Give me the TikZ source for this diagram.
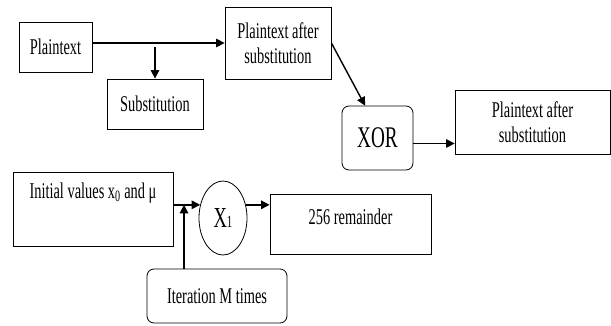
\documentclass[tikz,border=0pt]{standalone}
\usepackage{fontspec}
\setmainfont{Liberation Serif}[FakeStretch=0.64]
\usetikzlibrary{arrows.meta,shapes.geometric,calc}
\begin{document}
\begin{tikzpicture}[x=1pt,y=-1pt,
  box/.style={draw, line width=0.8pt, inner sep=0pt, align=center,
    font=\fontsize{22.5}{25}\selectfont},
  rbox/.style={box, rounded corners=7pt},
  arr/.style={line width=1.4pt, -{Triangle[length=8.5pt,width=8.5pt]}}]
\useasboundingbox (0,0) rectangle (611,325);
\node[box, minimum width=73, minimum height=50] (pt) at (55.5,47) {Plaintext};
\node[box, minimum width=106, minimum height=72] (pas) at (278,43) {Plaintext after\\substitution};
\node[box, minimum width=96, minimum height=50] (sub) at (155,104) {Substitution};
\node[rbox, minimum width=71, minimum height=64, font=\fontsize{30}{32}\selectfont] (xor) at (377.5,138) {XOR};
\node[box, minimum width=155, minimum height=64] (out) at (532.5,122) {Plaintext after\\substitution};
\node[box, minimum width=160, minimum height=74, text height=15pt, text depth=36pt] (init) at (93,209) {Initial values x\textsubscript{0} and μ};
\node[draw, line width=0.8pt, ellipse, inner sep=0pt, minimum width=48, minimum height=74] (x1) at (223,218) {{\fontsize{29}{30}\selectfont X}{\fontsize{17}{18}\selectfont 1}};
\node[box, minimum width=161, minimum height=60, text height=15pt, text depth=15pt] (rem) at (350.5,224) {256 remainder};
\node[rbox, minimum width=140, minimum height=54] (iter) at (217,296) {Iteration M times};
\coordinate (j) at (184,0);
\draw[arr] (pt.east |- pas.west) -- (pas.west);
\draw[arr] (pt.east -| sub.north) -- (sub.north);
\draw[arr] (pas.east) -- (xor.111);
\draw[arr] ([yshift=-5.5pt]xor.east) -- ([yshift=-5.5pt]xor.east -| out.west);
\draw[arr] (init.east |- x1.150) -- (x1.150);
\draw[arr] (iter.north -| j) -- (j |- x1.150);
\draw[arr] (x1.30) -- (x1.30 -| rem.west);
\end{tikzpicture}
\end{document}
